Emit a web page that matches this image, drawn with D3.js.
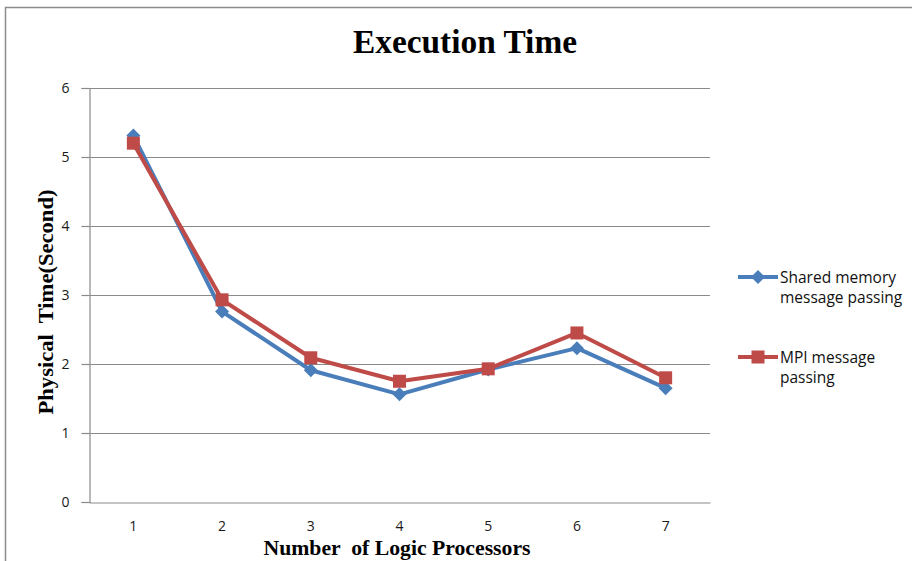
<!DOCTYPE html>
<html>
<head>
<meta charset="utf-8">
<script src="https://cdn.jsdelivr.net/npm/d3@7/dist/d3.min.js"></script>
<style>
  html, body { margin: 0; padding: 0; background: #fff; }
  svg { display: block; }
  text { white-space: pre; }
</style>
</head>
<body>
<svg id="chart" width="912" height="561"></svg>
<script>
// Execution time per number of logic processors
const processors = ["1", "2", "3", "4", "5", "6", "7"];
const sharedMemory = [5.31, 2.76, 1.91, 1.56, 1.92, 2.23, 1.65];
const mpiPassing   = [5.20, 2.93, 2.09, 1.75, 1.93, 2.45, 1.80];
const yTicks = [0, 1, 2, 3, 4, 5, 6];
const seriesNames = ["Shared memory\nmessage passing", "MPI message\npassing"];

const svg = d3.select("#chart");
const W = 912, H = 561;
const m = { left: 89, right: 202, top: 88, bottom: 59 };

// outer chart frame
svg.append("rect")
  .attr("x", 5.5).attr("y", 7.5)
  .attr("width", W + 10).attr("height", H + 10)
  .attr("fill", "#fff").attr("stroke", "#8c8c8c").attr("stroke-width", 1.5);

const x = d3.scaleBand().domain(processors).range([m.left, W - m.right]);
const y = d3.scaleLinear().domain([0, 6]).range([H - m.bottom, m.top]);

// horizontal gridlines
svg.append("g")
  .selectAll("line").data(yTicks.filter(d => d > 0)).join("line")
  .attr("x1", m.left).attr("x2", W - m.right)
  .attr("y1", d => Math.round(y(d)) + 0.5).attr("y2", d => Math.round(y(d)) + 0.5)
  .attr("stroke", "#8a8a8a").attr("stroke-width", 1.2);

const tickFont = "'Open Sans', sans-serif";

// y axis
const yAxis = svg.append("g")
  .attr("transform", `translate(${m.left + 0.5},0)`)
  .call(d3.axisLeft(y).tickValues(yTicks).tickSize(8).tickPadding(12).tickFormat(d3.format("d")));
yAxis.select(".domain").attr("stroke", "#8a8a8a").attr("stroke-width", 1.2);
yAxis.selectAll(".tick line").attr("stroke", "#8a8a8a").attr("stroke-width", 1.2);
yAxis.selectAll(".tick text")
  .attr("font-family", tickFont).attr("font-size", 14).attr("fill", "#1a1a1a");

// x axis
const xAxis = svg.append("g")
  .attr("transform", `translate(0,${Math.round(y(0)) + 0.5})`)
  .call(d3.axisBottom(x).tickSize(0).tickPadding(19));
xAxis.select(".domain").attr("stroke", "#8a8a8a").attr("stroke-width", 1.2);
xAxis.selectAll(".tick text")
  .attr("font-family", tickFont).attr("font-size", 14).attr("fill", "#1a1a1a");

// title and axis titles
const serif = "'Liberation Serif', 'Times New Roman', serif";
svg.append("text")
  .attr("x", 465).attr("y", 53)
  .attr("text-anchor", "middle")
  .attr("font-family", serif).attr("font-weight", "bold")
  .attr("font-size", 34).attr("fill", "#000")
  .attr("textLength", 224).attr("lengthAdjust", "spacingAndGlyphs")
  .text("Execution Time");

svg.append("text")
  .attr("x", 397).attr("y", 555)
  .attr("text-anchor", "middle")
  .attr("font-family", serif).attr("font-weight", "bold")
  .attr("font-size", 20).attr("fill", "#000")
  .attr("textLength", 267).attr("lengthAdjust", "spacingAndGlyphs")
  .text("Number  of Logic Processors");

svg.append("text")
  .attr("transform", "translate(53,302) rotate(-90)")
  .attr("text-anchor", "middle")
  .attr("font-family", serif).attr("font-weight", "bold")
  .attr("font-size", 20).attr("fill", "#000")
  .attr("textLength", 225).attr("lengthAdjust", "spacingAndGlyphs")
  .text("Physical  Time(Second)");

const cx = d => x(d) + x.bandwidth() / 2;
const line = d3.line().x(d => cx(d.p)).y(d => y(d.v));

const series = [
  { name: seriesNames[0], values: sharedMemory, color: "#4a7ebb", marker: "diamond" },
  { name: seriesNames[1], values: mpiPassing,   color: "#be4b48", marker: "square" }
];

function drawMarker(g, type, color, px, py) {
  if (type === "diamond") {
    const s = 7;
    g.append("path")
      .attr("d", `M${px},${py - s}L${px + s},${py}L${px},${py + s}L${px - s},${py}Z`)
      .attr("fill", color);
  } else {
    const s = 6.5;
    g.append("rect")
      .attr("x", px - s).attr("y", py - s)
      .attr("width", 2 * s).attr("height", 2 * s)
      .attr("fill", color);
  }
}

series.forEach(s => {
  const pts = processors.map((p, i) => ({ p, v: s.values[i] }));
  const g = svg.append("g");
  g.append("path")
    .datum(pts)
    .attr("d", line)
    .attr("fill", "none")
    .attr("stroke", s.color)
    .attr("stroke-width", 4)
    .attr("stroke-linejoin", "round");
  pts.forEach(d => drawMarker(g, s.marker, s.color, cx(d.p), y(d.v)));
});

// legend
const legendY = [277, 357];
series.forEach((s, i) => {
  const g = svg.append("g");
  const ly = legendY[i];
  g.append("line")
    .attr("x1", 738).attr("x2", 778).attr("y1", ly).attr("y2", ly)
    .attr("stroke", s.color).attr("stroke-width", 4);
  drawMarker(g, s.marker, s.color, 758, ly);
  const t = g.append("text")
    .attr("x", 780).attr("y", ly + 6)
    .attr("font-family", tickFont).attr("font-size", 15.5)
    .attr("fill", "#111");
  s.name.split("\n").forEach((ln, j) => {
    t.append("tspan").attr("x", 780).attr("dy", j === 0 ? 0 : 20).text(ln);
  });
});
</script>
</body>
</html>
